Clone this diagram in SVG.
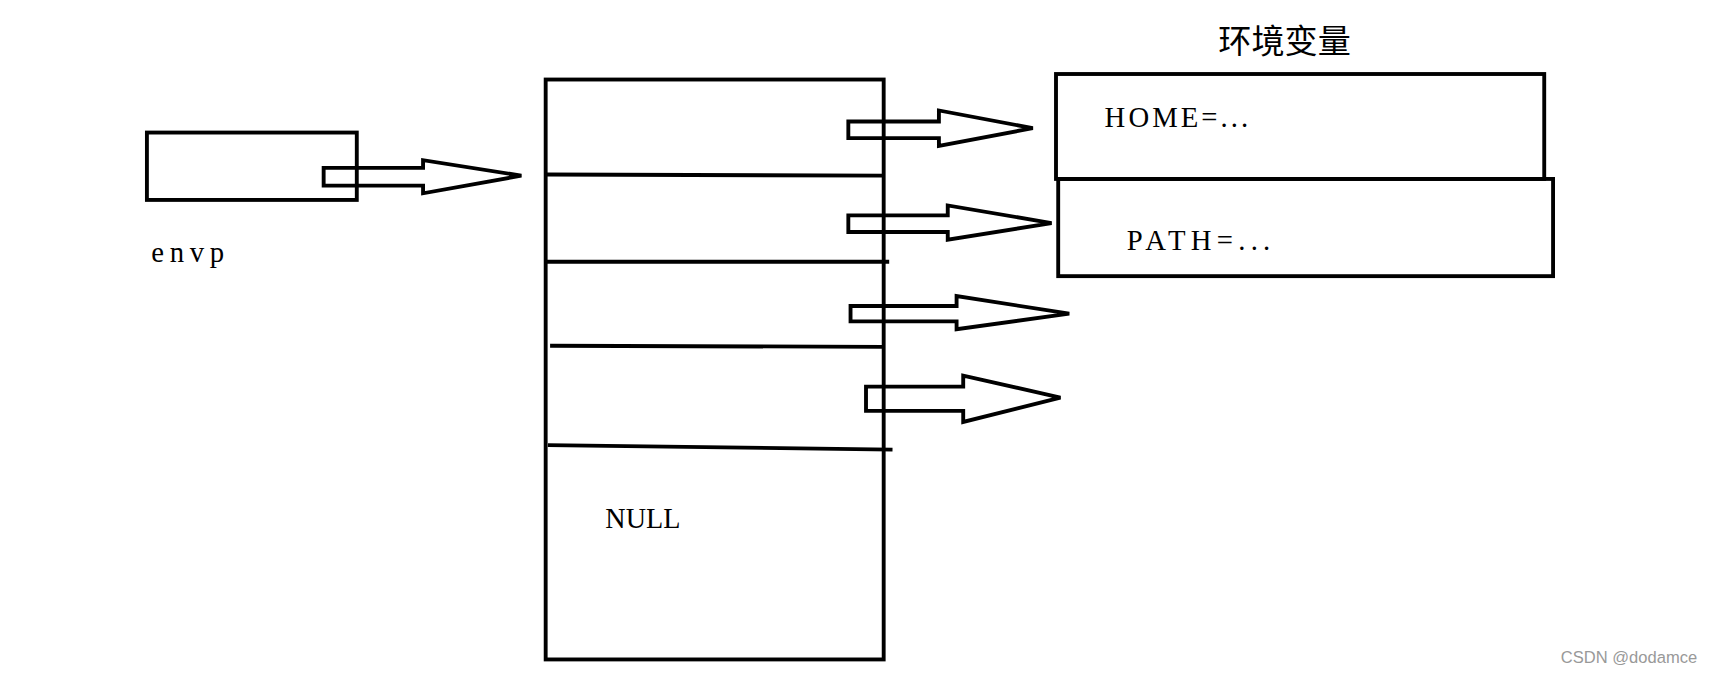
<svg xmlns="http://www.w3.org/2000/svg" width="1732" height="674" viewBox="0 0 1732 674">
<style>
.b{fill:none;stroke:#000;stroke-width:3.5}
.t{font-family:"Liberation Serif","Noto Sans CJK SC",serif;fill:#000}
</style>
<rect width="1732" height="674" fill="#fff"/>
<g transform="scale(1.1046)">
<g id="envp"><rect class="b" x="133" y="120" width="190" height="61"/><text class="t" x="137" y="237" font-size="26" textLength="66" lengthAdjust="spacing">envp</text></g>
<g id="array">
<rect class="b" x="494" y="72" width="306" height="525"/>
<path class="b" d="M494 158 L800 159 M494 237 L805 237 M498 313 L800 314 M496 403 L808 407"/>
<text class="t" x="548" y="478" font-size="26" textLength="68" lengthAdjust="spacingAndGlyphs">NULL</text>
</g>
<g id="home"><rect class="b" x="956" y="67" width="442" height="95"/><text class="t" x="1000" y="115" font-size="26" textLength="130" lengthAdjust="spacing">HOME=...</text></g>
<g id="path"><rect class="b" x="958" y="162" width="448" height="88"/><text class="t" x="1020" y="226" font-size="26" textLength="130" lengthAdjust="spacing">PATH=...</text></g>
<text class="t" x="1103" y="48" font-size="30">环境变量</text>
<g id="connectors">
<path class="b" d="M293 152 H383 V145 L472 159 L383 175 V168 H293 Z"/>
<path class="b" d="M768 110 H850 V100 L935 116 L850 132 V125 H768 Z"/>
<path class="b" d="M768 195 H858 V186 L952 202 L858 217 V210 H768 Z"/>
<path class="b" d="M770 277 H866 V268 L968 284 L866 298 V291 H770 Z"/>
<path class="b" d="M784 350 H872 V340 L960 360 L872 382 V372 H784 Z"/>
</g>
<text x="1413" y="600" font-family="Liberation Sans,sans-serif" font-size="15" fill="#999">CSDN @dodamce</text>
</g>
</svg>
